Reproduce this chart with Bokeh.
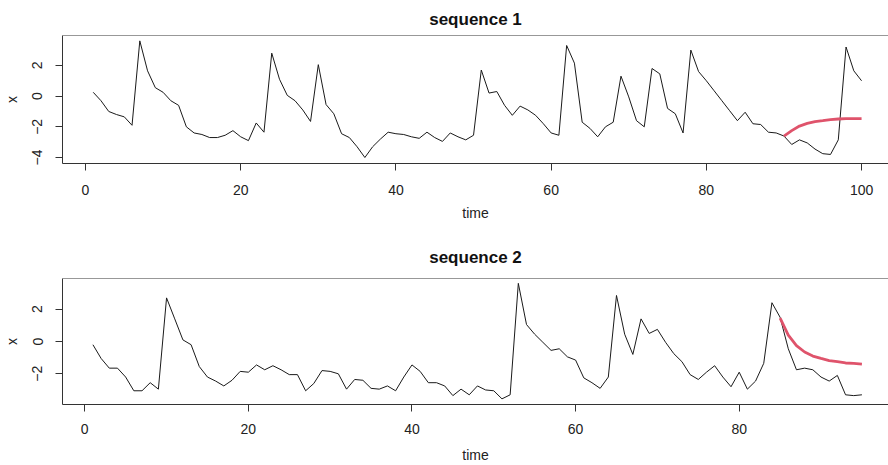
from bokeh.plotting import figure
from bokeh.models import FixedTicker, Range1d, Span
from bokeh.layouts import column
from bokeh.embed import file_html
from bokeh.resources import INLINE

# ---------------- data ----------------
time1 = list(range(1, 101))
seq1 = [0.25, -0.3, -1.0, -1.2, -1.35, -1.9, 3.6, 1.65, 0.55, 0.25,
        -0.3, -0.6, -2.0, -2.4, -2.5, -2.7, -2.7, -2.55, -2.25, -2.65,
        -2.9, -1.75, -2.35, 2.8, 1.1, 0.05, -0.3, -0.9, -1.65, 2.05,
        -0.55, -1.15, -2.45, -2.7, -3.3, -4.0, -3.3, -2.8, -2.35, -2.45,
        -2.5, -2.65, -2.75, -2.35, -2.7, -2.95, -2.4, -2.65, -2.85, -2.55,
        1.7, 0.2, 0.3, -0.6, -1.25, -0.65, -0.9, -1.25, -1.8, -2.4,
        -2.55, 3.3, 2.15, -1.7, -2.1, -2.65, -2.0, -1.7, 1.3, -0.05,
        -1.6, -2.0, 1.8, 1.45, -0.8, -1.15, -2.4, 3.0, 1.6, 1.0,
        0.35, -0.3, -0.95, -1.6, -1.05, -1.8, -1.85, -2.35, -2.4, -2.6,
        -3.15, -2.85, -3.05, -3.45, -3.75, -3.8, -2.85, 3.2, 1.65, 1.0]
fc_time1 = list(range(90, 101))
fc1 = [-2.6, -2.25, -1.95, -1.78, -1.66, -1.6, -1.53, -1.49, -1.47, -1.46, -1.46]

time2 = list(range(1, 96))
seq2 = [-0.2, -1.05, -1.65, -1.65, -2.2, -3.05, -3.05, -2.55, -2.95, 2.7,
        1.4, 0.1, -0.2, -1.55, -2.2, -2.45, -2.75, -2.4, -1.85, -1.9,
        -1.45, -1.75, -1.5, -1.75, -2.05, -2.05, -3.05, -2.6, -1.8, -1.85,
        -2.0, -2.95, -2.35, -2.4, -2.9, -2.95, -2.75, -3.05, -2.2, -1.45,
        -1.85, -2.55, -2.55, -2.75, -3.35, -2.95, -3.3, -2.75, -3.0, -3.05,
        -3.55, -3.3, 3.6, 1.05, 0.45, -0.05, -0.55, -0.45, -0.95, -1.15,
        -2.25, -2.55, -2.9, -2.2, 2.85, 0.45, -0.8, 1.4, 0.5, 0.75,
        -0.05, -0.75, -1.25, -2.05, -2.35, -1.9, -1.5, -2.2, -2.8, -1.9,
        -2.95, -2.45, -1.35, 2.4, 1.5, -0.45, -1.75, -1.65, -1.75, -2.2,
        -2.45, -2.1, -3.3, -3.35, -3.3]
fc_time2 = list(range(85, 96))
fc2 = [1.45, 0.4, -0.25, -0.65, -0.9, -1.05, -1.18, -1.25, -1.33, -1.36, -1.4]

x_ticks1 = [0, 20, 40, 60, 80, 100]
y_ticks1 = [-4, -2, 0, 2]
x_ticks2 = [0, 20, 40, 60, 80]
y_ticks2 = [-2, 0, 2]

FONT = "Liberation Sans"
LC = "#333333"
RED = "#DF536B"


def style_axis(ax, ticks):
    ax.axis_line_color = LC
    ax.axis_line_width = 1
    ax.minor_tick_line_color = None
    ax.ticker = FixedTicker(ticks=ticks)
    ax.major_tick_line_color = LC
    ax.major_tick_out = 7
    ax.major_tick_in = 0
    ax.major_label_text_font = FONT
    ax.major_label_text_font_size = "14px"
    ax.major_label_text_color = "#222222"
    ax.axis_label_text_font = FONT
    ax.axis_label_text_font_size = "14px"
    ax.axis_label_text_font_style = "normal"
    ax.axis_label_text_color = "#222222"


def make(title, t, y, ft, fy, xticks, yticks, xr, yr, height, top, bottom, tstand, xstand, xlstand):
    p = figure(width=888, height=height, output_backend="svg", toolbar_location=None,
               x_range=Range1d(*xr), y_range=Range1d(*yr),
               min_border_left=61, min_border_right=0,
               min_border_top=top, min_border_bottom=bottom)
    p.title.text = title
    p.title.align = "center"
    p.title.text_font = FONT
    p.title.text_font_size = "17px"
    p.title.text_font_style = "bold"
    p.title.text_color = "#111111"
    p.title.standoff = tstand
    p.outline_line_color = None
    p.xgrid.visible = False
    p.ygrid.visible = False
    p.background_fill_color = "white"
    p.border_fill_color = "white"

    xa = p.xaxis[0]
    style_axis(xa, xticks)
    xa.axis_label = "time"
    xa.major_label_standoff = xstand
    xa.axis_label_standoff = xlstand

    ya = p.yaxis[0]
    style_axis(ya, yticks)
    ya.axis_label = "x"
    ya.major_label_orientation = "vertical"
    ya.major_label_standoff = 13
    ya.axis_label_standoff = 10

    # top edge of the box (right edge lies outside the picture, as in the original)
    p.add_layout(Span(location=yr[1], dimension="width", line_color=LC, line_width=1))

    p.line(t, y, line_color="#1a1a1a", line_width=1)
    p.line(ft, fy, line_color=RED, line_width=2.8)
    return p


p1 = make("sequence 1", time1, seq1, fc_time1, fc1, x_ticks1, y_ticks1,
          (-2.96, 103.47), (-4.39, 3.95), 230, 35, 67, 14, 14, 7)
p2 = make("sequence 2", time2, seq2, fc_time2, fc2, x_ticks2, y_ticks2,
          (-2.72, 98.25), (-3.9, 3.9), 235, 48, 60, 23, 12, 10)

layout = column(p1, p2, spacing=0)
open("out.html", "w").write(file_html(layout, INLINE))
